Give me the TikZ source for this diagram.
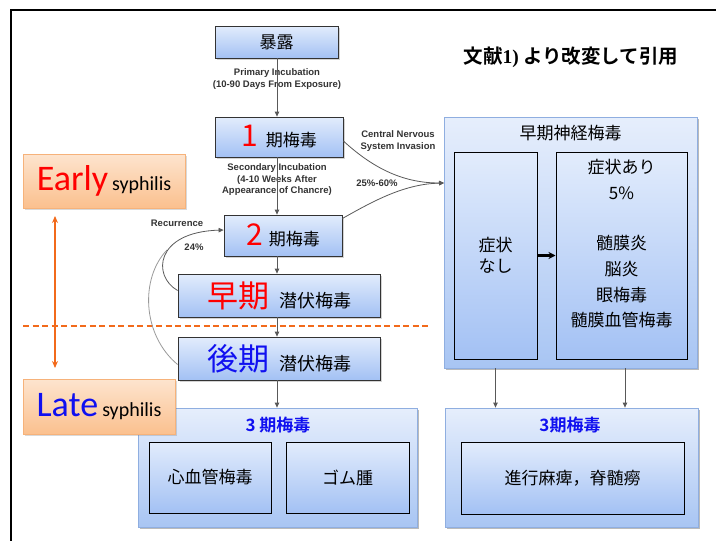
\documentclass[tikz,border=0pt]{standalone}
\usepackage{fontspec}
\setmainfont{Noto Sans CJK JP}[BoldFont={Noto Sans CJK JP Bold}]
\newfontfamily\labfont{Liberation Sans}
\newfontfamily\carfont{Carlito}
\newfontfamily\tmsfont{Liberation Serif}
\usetikzlibrary{arrows.meta,shadows}
\definecolor{bluetop}{HTML}{E2ECFC}
\definecolor{bluebot}{HTML}{A3C1F4}
\definecolor{conttop}{HTML}{E6EEFC}
\definecolor{contbot}{HTML}{A8C5F3}
\definecolor{contborder}{HTML}{8FAEE0}
\definecolor{peachtop}{HTML}{FDE4CE}
\definecolor{peachbot}{HTML}{FBC08E}
\definecolor{peachborder}{HTML}{F6B27A}
\definecolor{orangeline}{HTML}{F26A1B}
\definecolor{jred}{HTML}{FF0000}
\definecolor{jblue}{HTML}{1010F0}
\begin{document}
\begin{tikzpicture}[x=1pt,y=-1pt,
  flow/.style={draw=black!80, line width=0.8pt, top color=bluetop, bottom color=bluebot,
    drop shadow={shadow xshift=1.5pt,shadow yshift=-1.5pt,opacity=0.35}, inner sep=0pt},
  inbox/.style={draw=black, line width=1pt, top color=bluetop, bottom color=bluebot,
    drop shadow={shadow xshift=1.2pt,shadow yshift=-1.2pt,opacity=0.3}, inner sep=0pt},
  cont/.style={draw=contborder, line width=0.8pt, top color=conttop, bottom color=contbot,
    drop shadow={shadow xshift=2pt,shadow yshift=-2pt,fill=black!45,opacity=0.6}, inner sep=0pt},
  peach/.style={draw=peachborder, line width=0.8pt, top color=peachtop, bottom color=peachbot,
    drop shadow={shadow xshift=1.5pt,shadow yshift=-1.5pt,opacity=0.3}, inner sep=0pt},
  arr/.style={draw=black!65, line width=0.8pt, -{Triangle[length=5pt,width=4.5pt]}},
  lbl/.style={font=\labfont\bfseries\fontsize{9.5}{11.5}\selectfont, text=black!80, align=center, inner sep=0pt},
  jp/.style={font=\fontsize{17}{17}\selectfont, inner sep=0pt},
  ttl/.style={font=\bfseries\fontsize{17}{17}\selectfont, text=jblue, inner sep=0pt},
]
\useasboundingbox (0,0) rectangle (716,541);
% frame
\draw[line width=1.2pt] (11,541) -- (11,10) -- (716,10);

% top-right note
\node[inner sep=0pt, font=\bfseries\fontsize{19.5}{19.5}\selectfont] (note) at (571,57)
  {文献{\tmsfont\bfseries 1)} より改変して引用};

% main flow
\node[flow, minimum width=123pt, minimum height=32pt] (n0) at (276.5,42)
  {\fontsize{17}{17}\selectfont 暴露};
\node[flow, minimum width=128pt, minimum height=40pt] (n1) at (279,137)
  {{\fontsize{30}{30}\selectfont\color{jred}1}\hspace{8pt}{\fontsize{17}{17}\selectfont 期梅毒}};
\node[flow, minimum width=118pt, minimum height=41pt] (n2) at (283,235.5)
  {{\fontsize{30}{30}\selectfont\color{jred}2}\hspace{6pt}{\fontsize{17}{17}\selectfont 期梅毒}};
\node[flow, minimum width=202pt, minimum height=43pt] (n3) at (279,295.5)
  {{\fontsize{31}{31}\selectfont\color{jred}早期}\hspace{10pt}{\fontsize{18}{18}\selectfont 潜伏梅毒}};
\node[flow, minimum width=202pt, minimum height=43pt] (n4) at (279,358.5)
  {{\fontsize{31}{31}\selectfont\color{jblue}後期}\hspace{10pt}{\fontsize{18}{18}\selectfont 潜伏梅毒}};

% labels on main flow
\node[lbl] (lp) at (277,79) {Primary Incubation\\(10-90 Days From Exposure)};
\node[lbl] (ls) at (277,180) {Secondary Incubation\\(4-10 Weeks After\\Appearance of Chancre)};
\node[lbl] (lc) at (398,141) {Central Nervous\\System Invasion};
\node[lbl] (lq) at (377,183) {25\%-60\%};
\node[lbl] (lr) at (177,223) {Recurrence};
\node[lbl] (lt) at (194,247) {24\%};

% Early box and arrows
\node[peach, minimum width=162pt, minimum height=54pt] (early) at (104,181)
  {{\carfont\fontsize{36}{36}\selectfont\color{jred}Early}\hspace{4pt}{\carfont\fontsize{20}{20}\selectfont syphilis}};
\coordinate (ea) at (55,216);
\coordinate (eb) at (55,368);
\draw[orangeline, line width=1.6pt, {Stealth[length=7pt,width=6pt]}-{Stealth[length=7pt,width=6pt]}] (ea) -- (eb);
\coordinate (da) at (23,326);
\coordinate (db) at (430,326);
\draw[orangeline, line width=1.8pt, dash pattern=on 6pt off 3.5pt] (da) -- (db);

% early neurosyphilis container
\node[cont, minimum width=253pt, minimum height=251pt] (neuro) at (570.5,242.5) {};
\node[jp] (neurot) at (570.5,133) {早期神経梅毒};
\node[inbox, minimum width=83pt, minimum height=207pt, align=center,
  font=\fontsize{17}{21}\selectfont] (na) at (495.5,255.5) {症状\\なし};
\node[inbox, minimum width=131pt, minimum height=207pt] (nb) at (621.5,255.5) {};
\node[jp] (nb1) at (621.5,167) {症状あり};
\node[jp] (nb2) at (621.5,193) {5\%};
\node[jp] (nb3) at (621.5,243) {髄膜炎};
\node[jp] (nb4) at (621.5,269) {脳炎};
\node[jp] (nb5) at (621.5,295) {眼梅毒};
\node[jp] (nb6) at (621.5,320) {髄膜血管梅毒};
\draw[draw=black, line width=2.2pt, -{Stealth[length=7pt,width=7pt]}] (na.east) -- (nb.west);

% tertiary boxes
\node[cont, minimum width=279pt, minimum height=119pt] (t3l) at (277.5,467.5) {};
\node[ttl] (t3lt) at (278,425) {3 期梅毒};
\node[inbox, minimum width=122pt, minimum height=71pt, font=\fontsize{17}{17}\selectfont] (cv) at (210,477.5) {心血管梅毒};
\node[inbox, minimum width=123pt, minimum height=71pt, font=\fontsize{17}{17}\selectfont] (gm) at (347.5,477.5) {ゴム腫};
\node[cont, minimum width=253pt, minimum height=119pt] (t3r) at (571.5,467.5) {};
\node[ttl] (t3rt) at (570,425) {3期梅毒};
\node[inbox, minimum width=223pt, minimum height=72pt, font=\fontsize{17}{17}\selectfont] (pp) at (572.5,478) {進行麻痺，脊髄癆};

% Late box (on top of the tertiary box)
\node[peach, minimum width=152pt, minimum height=55pt] (late) at (99,407)
  {{\carfont\fontsize{36}{36}\selectfont\color{jblue}Late}\hspace{4pt}{\carfont\fontsize{20}{20}\selectfont syphilis}};

% vertical arrows
\draw[arr] (n0.south -| lp) -- (n1.north -| lp);
\draw[arr] (n1.south -| lp) -- (n2.north -| lp);
\draw[arr] (n2.south -| lp) -- (n3.north -| lp);
\draw[arr] (n3.south -| lp) -- (n4.north -| lp);
\draw[arr] (n4.south -| lp) -- (t3l.north -| lp);
\draw[arr] (na.south |- neuro.south) -- (na.south |- t3r.north);
\draw[arr] ([xshift=3.5pt]nb.south |- neuro.south) -- ([xshift=3.5pt]nb.south |- t3r.north);

% CNS invasion curves
\coordinate (cni) at (444,183);
\draw[arr] ([yshift=-4pt]n1.east) .. controls (375,170) and (405,183) .. (cni);
\draw[arr] ([yshift=17pt]n2.east) .. controls (375,200) and (405,184) .. (cni);

% recurrence curves
\draw[draw=black!40, line width=0.8pt] ([yshift=-6pt]n4.west) .. controls (142,335) and (140,278) .. (167,250);
\draw[arr] ([yshift=5pt]n3.west) .. controls (152,276) and (155,232) .. ([yshift=5.5pt]n2.west);
\end{tikzpicture}
\end{document}
